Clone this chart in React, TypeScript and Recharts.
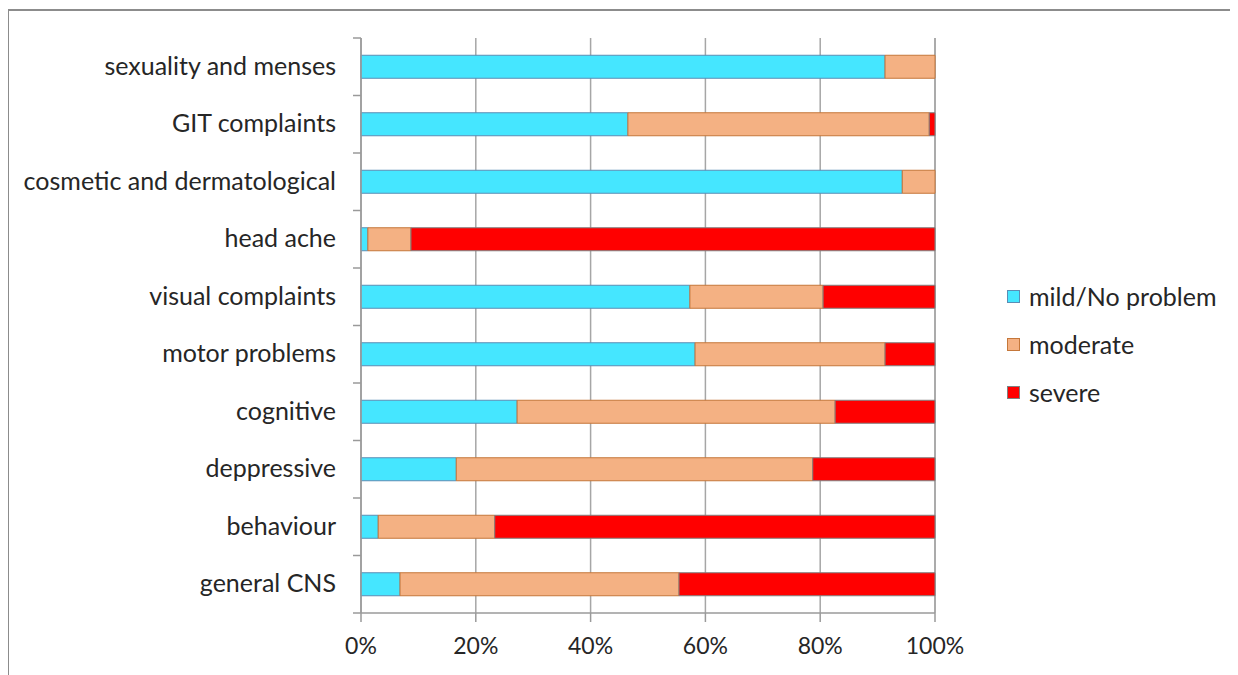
import React from "react";
import { BarChart, Bar, XAxis, YAxis, CartesianGrid } from "recharts";

const categories = [
  "sexuality and menses",
  "GIT complaints",
  "cosmetic and dermatological",
  "head ache",
  "visual complaints",
  "motor problems",
  "cognitive",
  "deppressive",
  "behaviour",
  "general CNS",
];
const mild = [91.3, 46.5, 94.3, 1.2, 57.3, 58.2, 27.2, 16.6, 3.0, 6.8];
const moderate = [8.7, 52.5, 5.7, 7.5, 23.2, 33.1, 55.4, 62.1, 20.3, 48.6];
const severe = [0, 1.0, 0, 91.3, 19.5, 8.7, 17.4, 21.3, 76.7, 44.6];
const xTicks = [0, 20, 40, 60, 80, 100];

const seriesNames = ["mild/No problem", "moderate", "severe"];
const seriesKeys = ["mild", "moderate", "severe"];
const seriesFill = ["#45E6FF", "#F4B183", "#FF0000"];
const seriesStroke = ["#5B8DB5", "#C5773A", "#808080"];

const data = categories.map((c, i) => ({
  name: c,
  mild: mild[i],
  moderate: moderate[i],
  severe: severe[i],
}));

const FONT = "Lato, 'Open Sans', sans-serif";
const TOP = 38;
const BOTTOM_PLOT = 613;
const HALF_BAND = (BOTTOM_PLOT - TOP) / categories.length / 2;

const YTick = (props: any) => {
  const { x, y, payload, index } = props;
  return (
    <g>
      <line x1={x - 2} x2={x + 6} y1={y - HALF_BAND} y2={y - HALF_BAND} stroke="#9a9a9a" strokeWidth={1.5} />
      {index === categories.length - 1 && (
        <line x1={x - 2} x2={x + 6} y1={y + HALF_BAND} y2={y + HALF_BAND} stroke="#9a9a9a" strokeWidth={1.5} />
      )}
      <text x={x - 19} y={y} dy={8} textAnchor="end" fill="#262626" fontSize={25} fontFamily={FONT}>
        {payload.value}
      </text>
    </g>
  );
};

export default function App() {
  return (
    <div style={{ position: "relative", width: 1230, height: 667 }}>
      <div
        style={{
          position: "absolute",
          left: -1,
          top: 1,
          width: 1240,
          height: 680,
          borderTop: "2px solid #8c8c8c",
          borderLeft: "2px solid #8c8c8c",
        }}
      />
      <div style={{ position: "absolute", left: -8, top: -8 }}>
        <BarChart
          width={1238}
          height={675}
          data={data}
          layout="vertical"
          margin={{ top: TOP, right: 303, bottom: 0, left: 0 }}
          barCategoryGap="30%"
        >
          <CartesianGrid horizontal={false} vertical={true} stroke="#a6a6a6" strokeWidth={1.5} />
          <XAxis
            type="number"
            domain={[0, 100]}
            ticks={xTicks}
            tickFormatter={(v: number) => `${v}%`}
            axisLine={{ stroke: "#9a9a9a", strokeWidth: 1.5 }}
            tickLine={{ stroke: "#9a9a9a", strokeWidth: 1.5 }}
            tickSize={9}
            height={675 - BOTTOM_PLOT}
            tick={{ fill: "#262626", fontSize: 23, fontFamily: FONT, dy: 14 }}
            interval={0}
          />
          <YAxis
            type="category"
            dataKey="name"
            width={361}
            axisLine={{ stroke: "#9a9a9a", strokeWidth: 1.5 }}
            tickLine={false}
            tick={<YTick />}
            tickMargin={0}
            interval={0}
          />
          {seriesKeys.map((k, i) => (
            <Bar
              key={k}
              dataKey={k}
              stackId="a"
              fill={seriesFill[i]}
              stroke={seriesStroke[i]}
              strokeWidth={1}
              isAnimationActive={false}
            />
          ))}
        </BarChart>
      </div>
      <div style={{ position: "absolute", left: 999, top: 264, fontFamily: FONT }}>
        {seriesNames.map((n, i) => (
          <div key={n} style={{ display: "flex", alignItems: "center", height: 48, fontSize: 25, color: "#262626" }}>
            <span
              style={{
                display: "inline-block",
                width: 11,
                height: 11,
                background: seriesFill[i],
                border: `1px solid ${seriesStroke[i]}`,
                marginRight: 9,
              }}
            />
            {n}
          </div>
        ))}
      </div>
    </div>
  );
}
